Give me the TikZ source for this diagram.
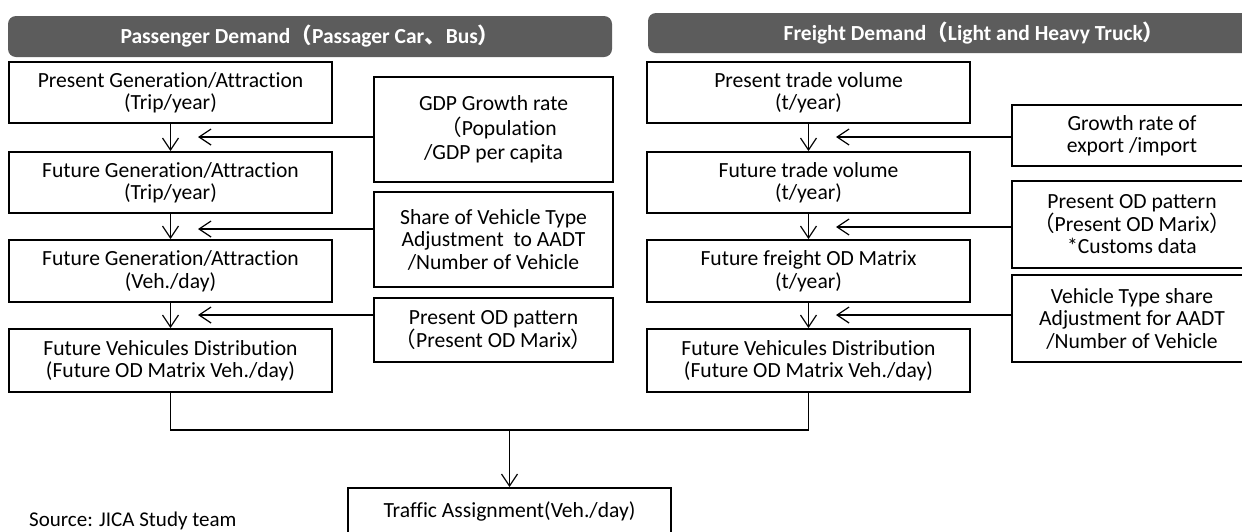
\documentclass[tikz,border=0pt]{standalone}
\usepackage{fontspec}
\setmainfont{Carlito}[Ligatures={NoCommon}]
\newfontfamily\cjk{Noto Sans CJK JP}
\usetikzlibrary{arrows.meta}
\newcommand\jlp{{\cjk （}}
\newcommand\jrp{{\cjk ）}}
\newcommand\jcomma{{\cjk 、}}
\tikzset{
  box/.style={draw=black, line width=1.8pt, fill=white, align=center, inner sep=0pt,
    font=\fontsize{21.6}{22.5}\selectfont},
  colbox/.style={box, minimum width=323pt, minimum height=61pt},
  header/.style={fill=black!64, rounded corners=8pt, text=white, inner sep=0pt,
    font=\fontsize{21.5}{24}\selectfont\bfseries},
  link/.style={draw=black, line width=1.2pt},
  arr/.style={link, -{Straight Barb[length=12pt,width=16pt]}}
}
\begin{document}
\begin{tikzpicture}[x=1pt,y=-1pt]
\useasboundingbox (0,0) rectangle (1242,531);
\fill[white] (0,0) rectangle (1242,531);

% headers
\node[header, minimum width=604pt, minimum height=41pt] (hp) at (310,36.5)
  {Passenger Demand\jlp Passager Car\jcomma Bus\jrp};
\node[header, minimum width=652pt, minimum height=40pt] (hf) at (974,33)
  {Freight Demand\jlp Light and Heavy Truck\jrp};

% passenger column
\node[colbox] (p1) at (170.5,92.5) {Present Generation/Attraction\\(Trip/year)};
\node[colbox] (p2) at (170.5,182.5) {Future Generation/Attraction\\(Trip/year)};
\node[colbox, minimum height=62pt] (p3) at (170.5,271) {Future Generation/Attraction\\(Veh./day)};
\node[colbox, minimum height=63pt] (p4) at (170.5,360.5) {Future Vehicules Distribution\\(Future OD Matrix Veh./day)};

% passenger inputs
\node[box, minimum width=239pt, minimum height=105pt] (gdp) at (493.5,129.5)
  {GDP Growth rate\\[2pt]\hspace*{10pt}\jlp Population\\[2pt]/GDP per capita};
\node[box, minimum width=239pt, minimum height=95pt] (share) at (493.5,239.5)
  {Share of Vehicle Type\\Adjustment\ \ to AADT\\/Number of Vehicle};
\node[box, minimum width=239pt, minimum height=64pt] (podp) at (493.5,330)
  {Present OD pattern\\\jlp Present OD Marix\jrp};

% freight column
\node[colbox] (f1) at (808.5,92.5) {Present trade volume\\(t/year)};
\node[colbox] (f2) at (808.5,182.5) {Future trade volume\\(t/year)};
\node[colbox, minimum height=62pt] (f3) at (808.5,271) {Future freight OD Matrix\\(t/year)};
\node[colbox, minimum height=63pt] (f4) at (808.5,360.5) {Future Vehicules Distribution\\(Future OD Matrix Veh./day)};

% freight inputs
\node[box, minimum width=240pt, minimum height=61pt] (grw) at (1132,135.5)
  {Growth rate of\\export /import};
\node[box, minimum width=240pt, minimum height=87pt] (podf) at (1132,224.5)
  {Present OD pattern\\\jlp Present OD Marix\jrp\\*Customs data};
\node[box, minimum width=240pt, minimum height=87pt] (vts) at (1132,318.5)
  {Vehicle Type share\\Adjustment for AADT\\/Number of Vehicle};

% assignment and source
\node[box, minimum width=323pt, minimum height=46pt] (ta) at (509.5,511)
  {Traffic Assignment(Veh./day)};
\node[anchor=base west, inner sep=0pt, font=\fontsize{21}{23}\selectfont] (src) at (29,526)
  {Source: JICA Study team};

% vertical flow arrows
\draw[arr] (p1) -- (p2);
\draw[arr] (p2) -- (p3);
\draw[arr] (p3) -- (p4);
\draw[arr] (f1) -- (f2);
\draw[arr] (f2) -- (f3);
\draw[arr] (f3) -- (f4);

% input arrows
\coordinate (pa1) at (198,137);
\coordinate (pa2) at (198,229);
\coordinate (pa3) at (198,315);
\coordinate (fa1) at (836,137);
\coordinate (fa2) at (836,227);
\coordinate (fa3) at (836,315);
\draw[arr] (gdp.west |- pa1) -- (pa1);
\draw[arr] (share.west |- pa2) -- (pa2);
\draw[arr] (podp.west |- pa3) -- (pa3);
\draw[arr] (grw.west |- fa1) -- (fa1);
\draw[arr] (podf.west |- fa2) -- (fa2);
\draw[arr] (vts.west |- fa3) -- (fa3);

% merge into assignment
\coordinate (mj) at (509.5,430);
\draw[link] (p4.south) -- (p4.south |- mj) -- (f4.south |- mj) -- (f4.south);
\draw[arr] (mj) -- (ta.north);
\end{tikzpicture}
\end{document}
